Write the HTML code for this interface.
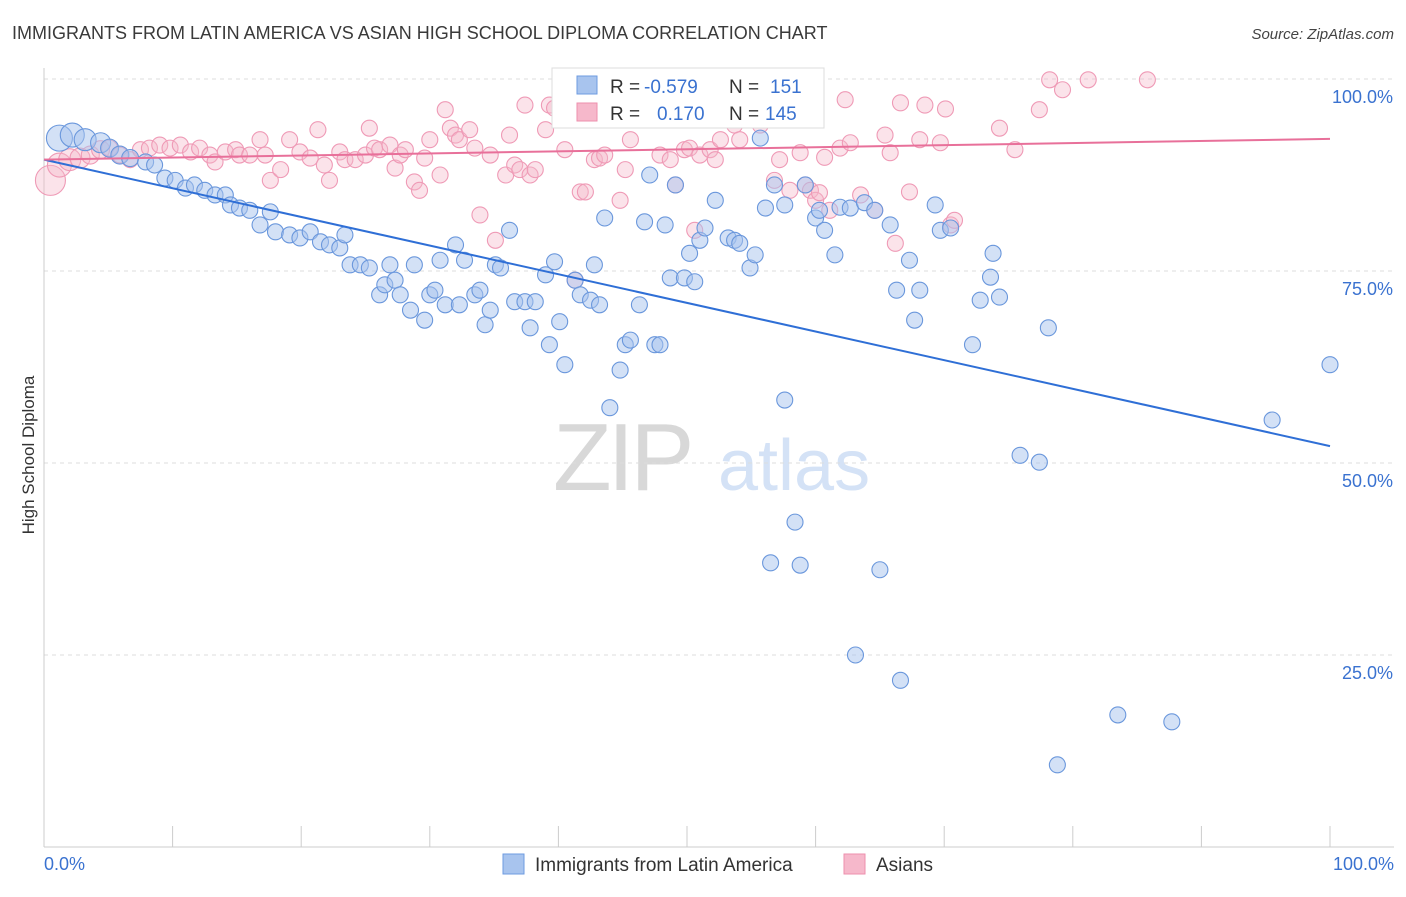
<!DOCTYPE html>
<html><head><meta charset="utf-8"><style>
body{margin:0;background:#fff;font-family:"Liberation Sans",sans-serif}
svg text{font-family:"Liberation Sans",sans-serif}
</style></head><body>
<svg id="chart" width="1406" height="892" xmlns="http://www.w3.org/2000/svg">
<text x="12" y="39" font-size="18" fill="#3a3a3a">IMMIGRANTS FROM LATIN AMERICA VS ASIAN HIGH SCHOOL DIPLOMA CORRELATION CHART</text>
<text x="1394" y="39" font-size="15" fill="#444" text-anchor="end" font-style="italic">Source: ZipAtlas.com</text>
<g><text x="553" y="490" font-size="96" fill="#d8d8d8" font-family="Liberation Serif" letter-spacing="-4">ZIP</text><text x="718" y="490" font-size="72" fill="#d4e2f6">atlas</text></g>
<g id="grid"></g><g id="axes"></g><g id="pink"></g><g id="blue"></g><g id="lines"></g>
<text transform="translate(34,455) rotate(-90)" font-size="17" fill="#333" text-anchor="middle">High School Diploma</text>
<g>
<rect x="552" y="68" width="272" height="60" fill="#fff" stroke="#ddd"/>
<rect x="577" y="76" width="20" height="18" fill="#a8c4ee" stroke="#6e9be0"/>
<text x="610" y="93" font-size="19" fill="#333">R =</text><text x="644" y="93" font-size="19" fill="#3a72d0">-0.579</text>
<text x="729" y="93" font-size="19" fill="#333">N =</text><text x="770" y="93" font-size="19" fill="#3a72d0">151</text>
<rect x="577" y="103" width="20" height="18" fill="#f6b8cb" stroke="#ee8fae"/>
<text x="610" y="120" font-size="19" fill="#333">R =</text><text x="657" y="120" font-size="19" fill="#3a72d0">0.170</text>
<text x="729" y="120" font-size="19" fill="#333">N =</text><text x="765" y="120" font-size="19" fill="#3a72d0">145</text>
</g>
<g><rect x="503" y="854" width="21" height="20" fill="#a8c4ee" stroke="#6e9be0"/><text x="535" y="871" font-size="19" fill="#333">Immigrants from Latin America</text></g>
<g><rect x="844" y="854" width="21" height="20" fill="#f6b8cb" stroke="#ee8fae"/><text x="876" y="871" font-size="19" fill="#333">Asians</text></g>
</svg>
<script>
const blueX=[1.2,2.2,3.2,4.4,5.1,5.9,6.7,7.9,8.6,9.4,10.2,11.0,11.7,12.5,13.3,14.1,14.5,15.2,16.0,16.8,17.6,18.0,19.1,19.9,20.7,21.5,22.2,23.0,23.4,23.8,24.6,25.3,26.1,26.5,26.9,27.3,27.7,28.5,28.8,29.6,30.0,30.4,30.8,31.2,32.0,32.3,32.7,33.5,33.9,34.3,34.7,35.1,35.5,36.2,36.6,37.4,37.8,38.2,39.0,39.3,39.7,40.1,40.5,41.3,41.7,42.5,42.8,43.2,43.6,44.0,44.8,45.2,45.6,46.3,46.7,47.1,47.5,47.9,48.3,48.7,49.1,49.8,50.2,50.6,51.0,51.4,52.2,53.2,53.7,54.1,54.9,55.3,55.7,56.1,56.5,56.8,57.6,57.6,58.4,58.8,59.2,60.0,60.3,60.7,61.5,61.9,62.7,63.1,63.8,64.6,65.0,65.8,66.3,66.6,67.3,67.7,68.1,69.3,69.7,70.5,72.2,72.8,73.6,73.8,74.3,75.9,77.4,78.1,78.8,83.5,87.7,95.5,100];
const blueY=[92.3,92.7,92.1,91.7,91.0,90.1,89.7,89.2,88.8,87.1,86.8,85.8,86.2,85.5,84.9,84.9,83.6,83.2,82.9,81.0,82.7,80.1,79.7,79.3,80.1,78.8,78.4,78.0,79.7,75.8,75.8,75.4,71.9,73.2,75.8,73.8,71.9,69.9,75.8,68.6,71.9,72.5,76.4,70.6,78.4,70.6,76.4,71.9,72.5,68.0,69.9,75.8,75.4,80.3,71.0,71.0,67.6,71.0,74.5,65.4,76.2,68.4,62.8,73.8,71.9,71.2,75.8,70.6,81.9,57.2,62.1,65.4,66.0,70.6,81.4,87.5,65.4,65.4,81.0,74.1,86.2,74.1,77.3,73.6,79.0,80.6,84.2,79.3,79.0,78.6,75.4,77.1,92.3,83.2,37.0,86.2,58.2,83.6,42.3,36.7,86.2,81.9,82.9,80.3,77.1,83.3,83.2,25.0,83.9,82.9,36.1,81.0,72.5,21.7,76.4,68.6,72.5,83.6,80.3,80.6,65.4,71.2,74.2,77.3,71.6,51.0,50.1,67.6,10.7,17.2,16.3,55.6,62.8];
const blueSize=[13,12,11,10,9,9,8.5];
const pinkX=[0.5,1.2,2.0,2.8,3.6,4.4,5.1,5.9,6.7,7.5,8.2,9.0,9.8,10.6,11.4,12.1,12.9,13.3,14.1,14.9,15.2,16.0,16.8,17.2,17.6,18.4,19.1,19.9,20.7,21.3,21.8,22.2,23.0,23.4,24.2,25.0,25.3,25.7,26.1,26.9,27.3,27.7,28.1,28.8,29.2,29.6,30.0,30.8,31.2,31.6,32.0,32.3,33.1,33.5,33.9,34.7,35.1,35.9,36.2,36.6,37.0,37.4,37.8,38.2,39.0,39.3,39.7,40.5,41.3,41.7,42.1,42.8,43.2,43.6,44.0,44.8,45.2,45.6,46.3,47.1,47.9,48.3,48.7,49.1,49.8,50.2,50.6,51.0,51.8,52.2,52.6,53.0,53.7,54.1,54.9,55.7,56.5,56.8,57.2,58.0,58.8,59.2,59.6,60.0,60.3,60.7,61.1,61.9,62.3,62.7,63.5,64.6,65.4,65.8,66.2,66.6,67.3,68.1,68.5,69.7,70.1,70.5,70.8,74.3,75.5,77.4,78.2,79.2,81.2,85.8];
const pinkY=[86.8,88.8,89.5,89.7,90.1,90.8,91.0,90.1,89.5,90.8,91.0,91.4,91.0,91.4,90.5,91.0,90.1,89.2,90.5,90.8,90.1,90.1,92.1,90.1,86.8,88.2,92.1,90.5,89.7,93.4,88.8,86.8,90.5,89.5,89.5,90.1,93.6,91.0,90.8,91.4,88.4,90.1,90.8,86.6,85.5,89.7,92.1,87.5,96.0,93.6,92.7,92.1,93.4,91.0,82.3,90.1,79.0,87.5,92.7,88.8,88.2,96.6,87.5,88.2,93.4,96.6,96.2,90.8,73.8,85.3,85.3,89.5,89.7,90.1,95.3,84.2,88.2,92.1,96.9,96.4,90.1,96.4,89.5,86.2,90.8,91.0,80.3,90.1,90.8,89.5,92.1,98.1,94.0,92.1,95.3,94.0,97.3,86.8,89.5,85.5,90.4,86.2,85.5,84.2,85.2,89.8,82.9,91.0,97.3,91.7,84.9,82.9,92.7,90.4,78.6,96.9,85.3,92.1,96.6,91.7,96.1,81.0,81.6,93.6,90.8,96.0,99.9,98.6,99.9,99.9];
const pinkSize=[15,12,11,10,9,9];
const trendBlue=[89.5,52.2], trendPink=[89.5,92.2];
const yTicks=[25,50,75,100];
const xTickLabels=['0.0%','100.0%'];
const X0=44,X1=1330,Y0=847,Y1=79;
const sx=v=>X0+(X1-X0)*v/100, sy=v=>Y0-(Y0-Y1)*v/100;
const NS='http://www.w3.org/2000/svg';
function mk(tag,at,parent,txt){const e=document.createElementNS(NS,tag);for(const k in at)e.setAttribute(k,at[k]);if(txt!==undefined)e.textContent=txt;parent.appendChild(e);return e;}
const grid=document.getElementById('grid'),axes=document.getElementById('axes');
yTicks.forEach(t=>{
 const l=mk('line',{x1:X0,x2:1394,y1:sy(t),y2:sy(t),stroke:'#ddd','stroke-dasharray':'4,4'},grid);
 
 
 const tx=mk('text',{x:1393,y:sy(t)+24,'font-size':18,fill:'#3a72d0','text-anchor':'end'},axes,t.toFixed(1)+'%');
 
 
});
const ax=mk('line',{x1:X0,x2:1394,y1:Y0,y2:Y0,stroke:'#ccc'},axes);


const ay=mk('line',{x1:X0,x2:X0,y1:68,y2:Y0,stroke:'#ccc'},axes);


for(let i=1;i<=10;i++){const t=mk('line',{x1:sx(i*10),x2:sx(i*10),y1:Y0-21,y2:Y0,stroke:'#ccc'},axes);
 
 }
const xl0=mk('text',{x:44,y:870,'font-size':18,fill:'#3a72d0'},axes,xTickLabels[0]);


const xl1=mk('text',{x:1394,y:870,'font-size':18,fill:'#3a72d0','text-anchor':'end'},axes,xTickLabels[1]);


const pg=document.getElementById('pink');
pinkX.forEach((x,i)=>{const c=mk('circle',{cx:sx(x),cy:sy(pinkY[i]),r:pinkSize[i]||8,fill:'#f6b8cb','fill-opacity':0.4,stroke:'#ef9ab6','stroke-width':1.1},pg);
 
 });
const bg=document.getElementById('blue');
blueX.forEach((x,i)=>{const c=mk('circle',{cx:sx(x),cy:sy(blueY[i]),r:blueSize[i]||8,fill:'#a8c4ee','fill-opacity':0.5,stroke:'#6a97dc','stroke-width':1.1},bg);
 
 });
const lg=document.getElementById('lines');
const lb=mk('line',{x1:sx(0),y1:sy(trendBlue[0]),x2:sx(100),y2:sy(trendBlue[1]),stroke:'#2f6fd6','stroke-width':2},lg);


const lp=mk('line',{x1:sx(0),y1:sy(trendPink[0]),x2:sx(100),y2:sy(trendPink[1]),stroke:'#e8709a','stroke-width':2},lg);


</script>
</body></html>
